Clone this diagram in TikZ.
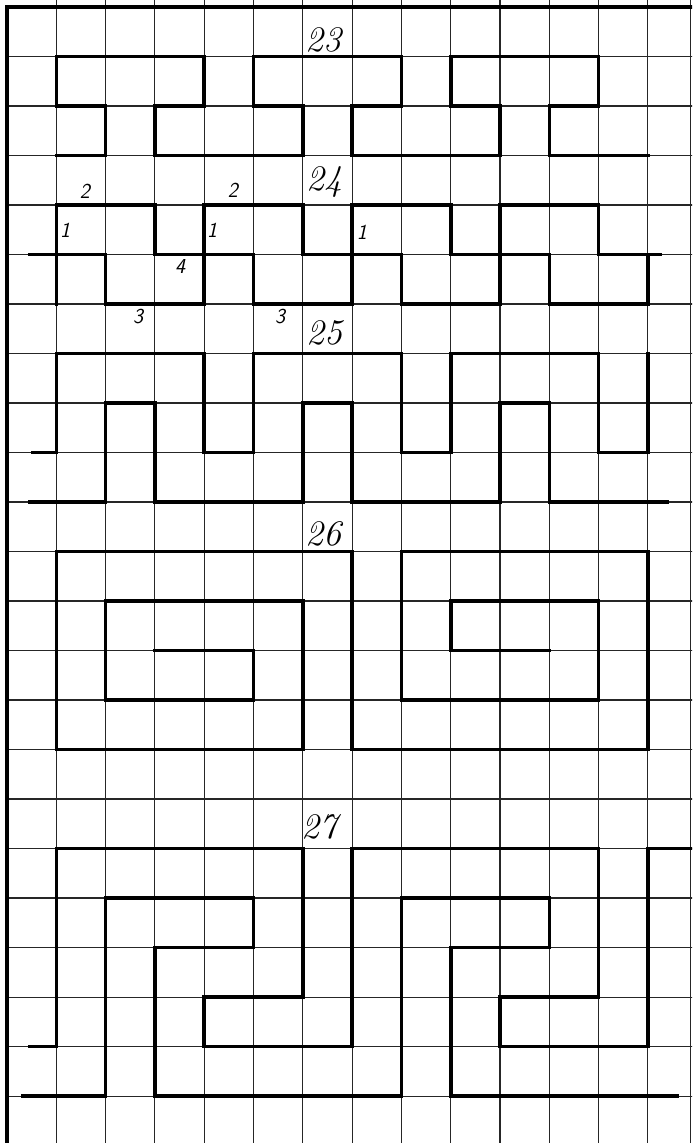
\documentclass[tikz,border=0pt]{standalone}
\begin{document}
\begin{tikzpicture}[x=36.975pt,y=-37.125pt,
  gridline/.style={line width=0.8pt,black!85},
  border/.style={line width=2.4pt,black},
  bold/.style={line width=2.7pt,black,line join=miter,line cap=rect},
  bignum/.style={inner sep=0pt,font=\fontsize{27}{30}\selectfont\itshape},
  smallnum/.style={inner sep=0pt,font=\fontsize{16}{18}\selectfont\sffamily\slshape}]
\useasboundingbox (-0.142,-0.1414) rectangle (13.895,22.949);
\begin{scope}
\clip (-0.142,-0.1414) rectangle (13.895,22.949);
% paper
\fill[white] (-0.142,-0.1414) rectangle (13.895,22.949);
% thin grid
\foreach \i in {1,...,13} \draw[gridline] (\i,-0.2) -- (\i,23.2);
\draw[gridline] (13.86,-0.2) -- (13.86,23.2);
\foreach \j in {1,...,23} \draw[gridline] (0,\j) -- (14.2,\j);
% border
\draw[border] (0,23.2) -- (0,0) -- (14.2,0);

% 23
\draw[bold] (1,3)--(2,3)--(2,2)--(1,2)--(1,1)--(4,1)--(4,2)--(3,2)--(3,3)--(6,3)--(6,2)--(5,2)--(5,1)--(8,1)--(8,2)--(7,2)--(7,3)--(10,3)--(10,2)--(9,2)--(9,1)--(12,1)--(12,2)--(11,2)--(11,3)--(13,3);

% 24
\draw[bold] (0.47,5)--(2,5)--(2,6)--(4,6)--(4,4)--(6,4)--(6,5)--(8,5)--(8,6)--(10,6)--(10,4)--(12,4)--(12,5)--(13.25,5);
\draw[bold] (1,6)--(1,4)--(3,4)--(3,5)--(5,5)--(5,6)--(7,6)--(7,4)--(9,4)--(9,5)--(11,5)--(11,6)--(13,6)--(13,5);

% 25
\draw[bold] (0.53,9)--(1,9)--(1,7)--(4,7)--(4,9)--(5,9)--(5,7)--(8,7)--(8,9)--(9,9)--(9,7)--(12,7)--(12,9)--(13,9)--(13,7);
\draw[bold] (0.47,10)--(2,10)--(2,8)--(3,8)--(3,10)--(6,10)--(6,8)--(7,8)--(7,10)--(10,10)--(10,8)--(11,8)--(11,10)--(13.4,10);

% 26
\draw[bold] (3,13)--(5,13)--(5,14)--(2,14)--(2,12)--(6,12)--(6,15)--(1,15)--(1,11)--(7,11)--(7,15)--(13,15)--(13,11)--(8,11)--(8,14)--(12,14)--(12,12)--(9,12)--(9,13)--(11,13);

% 27
\draw[bold] (0.47,21)--(1,21)--(1,17)--(6,17)--(6,20)--(4,20)--(4,21)--(7,21)--(7,17)--(12,17)--(12,20)--(10,20)--(10,21)--(13,21)--(13,17)--(14.1,17);
\draw[bold] (0.32,22)--(2,22)--(2,18)--(5,18)--(5,19)--(3,19)--(3,22)--(8,22)--(8,18)--(11,18)--(11,19)--(9,19)--(9,22)--(13.6,22);
\end{scope}

% numbers
\node[bignum] (n23) at (6.41,0.667) {23};
\node[bignum] (n24) at (6.43,3.535) {24};
\node[bignum] (n25) at (6.45,6.586) {25};
\node[bignum] (n26) at (6.41,10.646) {26};
\node[bignum] (n27) at (6.33,16.566) {27};

% small labels of 24
\node[smallnum] (a2) at (1.58,3.72) {2};
\node[smallnum] (b2) at (4.58,3.70) {2};
\node[smallnum] (a1) at (1.18,4.51) {1};
\node[smallnum] (b1) at (4.16,4.51) {1};
\node[smallnum] (c1) at (7.20,4.55) {1};
\node[smallnum] (a4) at (3.51,5.25) {4};
\node[smallnum] (a3) at (2.66,6.26) {3};
\node[smallnum] (b3) at (5.54,6.26) {3};
\end{tikzpicture}
\end{document}
